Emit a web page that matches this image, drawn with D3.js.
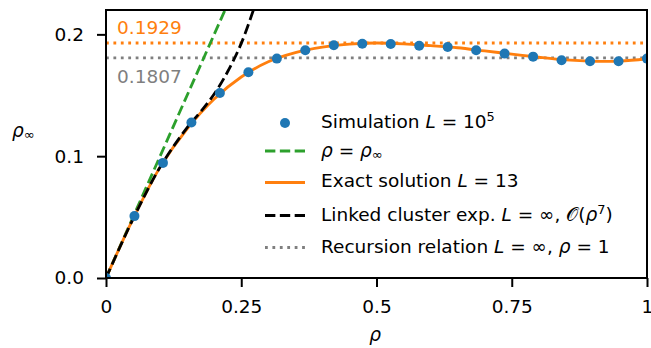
<!DOCTYPE html>
<html>
<head>
<meta charset="utf-8">
<script src="https://cdn.jsdelivr.net/npm/d3@7"></script>
<style>
  body { margin: 0; background: #fff; }
  text { font-family: "DejaVu Sans", sans-serif; }
</style>
</head>
<body>
<div id="chart"></div>
<script>
// Simulation L = 10^5 (dots)
const simX = [0, 0.0526, 0.1053, 0.1579, 0.2105, 0.2632, 0.3158, 0.3684, 0.4211, 0.4737,
              0.5263, 0.5789, 0.6316, 0.6842, 0.7368, 0.7895, 0.8421, 0.8947, 0.9474, 1];
const simY = [0, 0.0508, 0.0945, 0.1276, 0.1519, 0.1689, 0.1801, 0.1869, 0.1910, 0.1923,
              0.1921, 0.1907, 0.1896, 0.1869, 0.1842, 0.1817, 0.1787, 0.1779, 0.1779, 0.1801];

// Exact solution L = 13
const exactX = [0, 0.05, 0.1, 0.15, 0.2, 0.25, 0.3, 0.35, 0.4, 0.45, 0.5,
                0.55, 0.6, 0.65, 0.7, 0.75, 0.8, 0.85, 0.9, 0.95, 1];
const exactY = [0, 0.0485, 0.0910, 0.1225, 0.1470, 0.1650, 0.1775, 0.1850, 0.1895, 0.1920, 0.1929,
                0.1922, 0.1907, 0.1890, 0.1864, 0.1838, 0.1812, 0.1790, 0.1779, 0.1780, 0.1800];

// Linked cluster expansion L = inf, O(rho^7)
const lceX = [0, 0.05, 0.1, 0.15, 0.175, 0.2, 0.225, 0.25, 0.2723, 0.28];
const lceY = [0, 0.0485, 0.0910, 0.1235, 0.1365, 0.1510, 0.1695, 0.1926, 0.2197, 0.2300];

// rho = rho_inf
const diagX = [0, 0.25];

// horizontal reference levels
const exactMax = 0.1929;
const recursion = 0.1807;

const xTicks = [0, 0.25, 0.5, 0.75, 1];
const yTicks = [0, 0.1, 0.2];

const width = 651, height = 348;
const mLeft = 106, mRight = 647, mTop = 10, mBottom = 278;
const fs = 18.5;

const blue = "#1f77b4", orange = "#ff7f0e", green = "#2ca02c", gray = "#7f7f7f";

const svg = d3.select("#chart").append("svg")
    .attr("width", width)
    .attr("height", height);

const x = d3.scaleLinear().domain([0, 1]).range([mLeft, mRight]);
const y = d3.scaleLinear().domain([0, 0.22]).range([mBottom, mTop]);

svg.append("defs").append("clipPath").attr("id", "plot")
  .append("rect")
    .attr("x", mLeft).attr("y", mTop)
    .attr("width", mRight - mLeft).attr("height", mBottom - mTop);

const plot = svg.append("g").attr("clip-path", "url(#plot)");

const line = d3.line().x(d => x(d[0])).y(d => y(d[1]));
const smooth = d3.line().x(d => x(d[0])).y(d => y(d[1])).curve(d3.curveCatmullRom);

const lw = 2.8;
const dashed = `${3.7 * lw} ${1.6 * lw}`;
const dotted = `${lw} ${1.65 * lw}`;

// horizontal dotted levels
plot.append("path")
    .attr("d", line([[0, exactMax], [1, exactMax]]))
    .attr("fill", "none").attr("stroke", orange).attr("stroke-width", lw)
    .attr("stroke-dasharray", dotted);
plot.append("path")
    .attr("d", line([[0, recursion], [1, recursion]]))
    .attr("fill", "none").attr("stroke", gray).attr("stroke-width", lw)
    .attr("stroke-dasharray", dotted);

// rho = rho_inf
plot.append("path")
    .attr("d", line(diagX.map(v => [v, v])))
    .attr("fill", "none").attr("stroke", green).attr("stroke-width", lw)
    .attr("stroke-dasharray", dashed);

// exact solution
plot.append("path")
    .attr("d", smooth(exactX.map((v, i) => [v, exactY[i]])))
    .attr("fill", "none").attr("stroke", orange).attr("stroke-width", lw);

// linked cluster expansion
plot.append("path")
    .attr("d", smooth(lceX.map((v, i) => [v, lceY[i]])))
    .attr("fill", "none").attr("stroke", "#000").attr("stroke-width", lw)
    .attr("stroke-dasharray", dashed);

// simulation dots
plot.selectAll("circle.sim")
  .data(simX.map((v, i) => [v, simY[i]]))
  .join("circle")
    .attr("class", "sim")
    .attr("cx", d => x(d[0]))
    .attr("cy", d => y(d[1]))
    .attr("r", 5)
    .attr("fill", blue);

// value labels
svg.append("text").attr("x", 117).attr("y", 34)
    .attr("font-size", fs).attr("fill", orange).text(exactMax.toFixed(4));
svg.append("text").attr("x", 117).attr("y", 82.5)
    .attr("font-size", fs).attr("fill", gray).text(recursion.toFixed(4));

// axes
const xAxis = svg.append("g")
    .attr("transform", `translate(0,${mBottom})`)
    .call(d3.axisBottom(x).tickValues(xTicks).tickFormat(d => String(d))
      .tickSize(9).tickPadding(13));
const yAxis = svg.append("g")
    .attr("transform", `translate(${mLeft},0)`)
    .call(d3.axisLeft(y).tickValues(yTicks).tickFormat(d3.format(".1f"))
      .tickSize(9).tickPadding(13));

[xAxis, yAxis].forEach(g => {
  g.select(".domain").remove();
  g.selectAll(".tick line").attr("stroke", "#000").attr("stroke-width", 2);
  g.selectAll(".tick text").attr("font-size", fs).attr("fill", "#000")
    .attr("font-family", "DejaVu Sans");
});

svg.append("rect")
    .attr("x", mLeft).attr("y", mTop)
    .attr("width", mRight - mLeft).attr("height", mBottom - mTop)
    .attr("fill", "none").attr("stroke", "#000").attr("stroke-width", 2);

// axis labels
svg.append("text").attr("x", 375).attr("y", 341)
    .attr("text-anchor", "middle").attr("font-size", fs)
    .attr("font-style", "italic").text("ρ");
const yl = svg.append("text").attr("x", 12).attr("y", 137).attr("font-size", fs);
yl.append("tspan").attr("font-style", "italic").text("ρ");
yl.append("tspan").attr("font-size", fs * 0.7).attr("dy", 2).text("∞");

// legend
const legX0 = 265, legX1 = 305, legText = 321;
const legendRows = [
  { y: 123, kind: "dot" },
  { y: 151, kind: "line", color: green, dash: dashed },
  { y: 182.5, kind: "line", color: orange, dash: null },
  { y: 215.5, kind: "line", color: "#000", dash: dashed },
  { y: 247.5, kind: "line", color: gray, dash: dotted }
];
const legendBase = [127.7, 157.3, 187.3, 220.7, 253.3];

const leg = svg.append("g");
legendRows.forEach(r => {
  if (r.kind === "dot") {
    leg.append("circle").attr("cx", (legX0 + legX1) / 2).attr("cy", r.y)
      .attr("r", 5).attr("fill", blue);
  } else {
    leg.append("line").attr("x1", legX0).attr("x2", legX1)
      .attr("y1", r.y).attr("y2", r.y)
      .attr("stroke", r.color).attr("stroke-width", lw)
      .attr("stroke-dasharray", r.dash);
  }
});

function legendText(i) {
  return leg.append("text").attr("x", legText).attr("y", legendBase[i]).attr("font-size", fs);
}
let t = legendText(0);
t.append("tspan").text("Simulation ");
t.append("tspan").attr("font-style", "italic").text("L");
t.append("tspan").text(" = 10");
t.append("tspan").attr("font-size", fs * 0.7).attr("dy", -7).text("5");

t = legendText(1);
t.append("tspan").attr("font-style", "italic").text("ρ");
t.append("tspan").text(" = ");
t.append("tspan").attr("font-style", "italic").text("ρ");
t.append("tspan").attr("font-size", fs * 0.7).attr("dy", 2).text("∞");

t = legendText(2);
t.append("tspan").text("Exact solution ");
t.append("tspan").attr("font-style", "italic").text("L");
t.append("tspan").text(" = 13");

t = legendText(3);
t.append("tspan").text("Linked cluster exp. ");
t.append("tspan").attr("font-style", "italic").text("L");
t.append("tspan").text(" = ∞, ");
t.append("tspan").text("𝒪(");
t.append("tspan").attr("font-style", "italic").text("ρ");
t.append("tspan").attr("font-size", fs * 0.7).attr("dy", -7).text("7");
t.append("tspan").attr("dy", 7).text(")");

t = legendText(4);
t.append("tspan").text("Recursion relation ");
t.append("tspan").attr("font-style", "italic").text("L");
t.append("tspan").text(" = ∞, ");
t.append("tspan").attr("font-style", "italic").text("ρ");
t.append("tspan").text(" = 1");
</script>
</body>
</html>
